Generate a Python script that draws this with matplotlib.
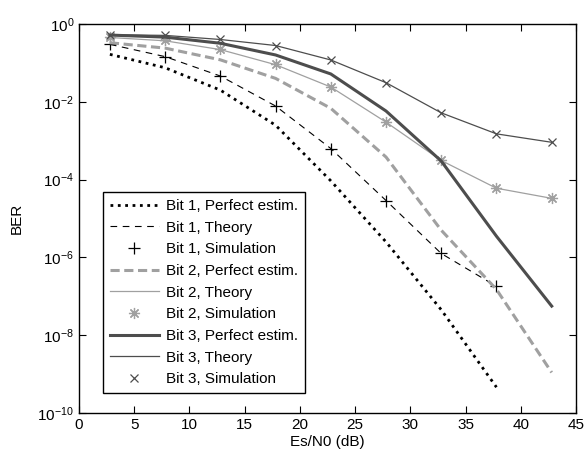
import matplotlib
matplotlib.use("Agg")
import matplotlib.pyplot as plt
from matplotlib.ticker import NullLocator, LogFormatterSciNotation

plt.rcParams['font.family'] = ['Liberation Sans', 'DejaVu Sans']
plt.rcParams['mathtext.fontset'] = 'custom'
plt.rcParams['mathtext.rm'] = 'Liberation Sans'

# --- data ---
snr = [2.8, 7.8, 12.8, 17.8, 22.8, 27.8, 32.8, 37.8, 42.8]

bit1_perfect = [0.166, 0.075, 0.020, 2.5e-3, 9.3e-5, 2.5e-6, 4.5e-8, 4.6e-10]
bit1_theory = [0.30, 0.145, 0.046, 7.8e-3, 6.3e-4, 2.9e-5, 1.26e-6, 1.8e-7]
bit1_sim = [0.31, 0.145, 0.046, 7.8e-3, 6.3e-4, 2.9e-5, 1.26e-6, 1.8e-7]

bit2_perfect = [0.33, 0.24, 0.12, 0.040, 6.8e-3, 3.8e-4, 5.0e-6, 1.5e-7, 1.1e-9]
bit2_theory = [0.45, 0.37, 0.22, 0.090, 0.024, 3.0e-3, 3.1e-4, 6.0e-5, 3.3e-5]
bit2_sim = [0.47, 0.39, 0.23, 0.092, 0.024, 3.0e-3, 3.1e-4, 6.0e-5, 3.3e-5]

bit3_perfect = [0.52, 0.46, 0.32, 0.16, 0.052, 5.8e-3, 3.0e-4, 3.5e-6, 5.6e-8]
bit3_theory = [0.53, 0.51, 0.40, 0.28, 0.119, 0.031, 5.2e-3, 1.5e-3, 9.1e-4]
bit3_sim = [0.53, 0.51, 0.40, 0.28, 0.119, 0.031, 5.2e-3, 1.5e-3, 9.1e-4]

x_ticks = [0, 5, 10, 15, 20, 25, 30, 35, 40, 45]
y_ticks = [1e-10, 1e-8, 1e-6, 1e-4, 1e-2, 1e0]

DARK = "#4d4d4d"
GRAY = "#a0a0a0"

fig = plt.figure(figsize=(5.85, 4.53), dpi=100)
ax = fig.add_axes([0.135, 0.0883, 0.8496, 0.8587])

n1 = len(bit1_perfect)
ax.semilogy(snr[:n1], bit1_perfect, ':', color='black', lw=2.0, label='Bit 1, Perfect estim.')
ax.semilogy(snr[:n1], bit1_theory, '--', color='black', lw=0.8, dashes=(6, 5), label='Bit 1, Theory')
ax.semilogy(snr[:n1], bit1_sim, '+', color='black', ms=9, mew=0.9, label='Bit 1, Simulation')

ax.semilogy(snr, bit2_perfect, '--', color=GRAY, lw=2.2, dashes=(3, 1.5), label='Bit 2, Perfect estim.')
ax.semilogy(snr, bit2_theory, '-', color=GRAY, lw=0.9, label='Bit 2, Theory')
ax.semilogy(snr, bit2_sim, marker=(8, 2, 0), ls='none', color=GRAY, ms=8, mew=0.9,
            label='Bit 2, Simulation')

ax.semilogy(snr, bit3_perfect, '-', color=DARK, lw=2.2, label='Bit 3, Perfect estim.')
ax.semilogy(snr, bit3_theory, '-', color=DARK, lw=0.9, label='Bit 3, Theory')
ax.semilogy(snr, bit3_sim, 'x', color=DARK, ms=6, mew=0.9, label='Bit 3, Simulation')

ax.set_xlim(0, 45)
ax.set_ylim(1e-10, 1)
ax.set_xticks(x_ticks)
ax.set_yticks(y_ticks)
ax.yaxis.set_major_formatter(LogFormatterSciNotation(base=10.0))
ax.yaxis.set_minor_locator(NullLocator())

ax.tick_params(direction='in', top=True, right=True, length=5, width=0.8, labelsize=11)
for s in ax.spines.values():
    s.set_linewidth(1.0)

ax.set_xlabel('Es/N0 (dB)', fontsize=11, labelpad=2)
ax.set_ylabel('BER', fontsize=11, labelpad=10)

leg = ax.legend(loc='lower left', bbox_to_anchor=(0.048, 0.051), borderaxespad=0,
                fontsize=11, frameon=True, fancybox=False, edgecolor='black',
                framealpha=1, handlelength=3.2, handletextpad=0.5,
                labelspacing=0.5, borderpad=0.45, numpoints=1)
leg.get_frame().set_linewidth(1.0)

fig.savefig('out.png', dpi=100, facecolor='white')
